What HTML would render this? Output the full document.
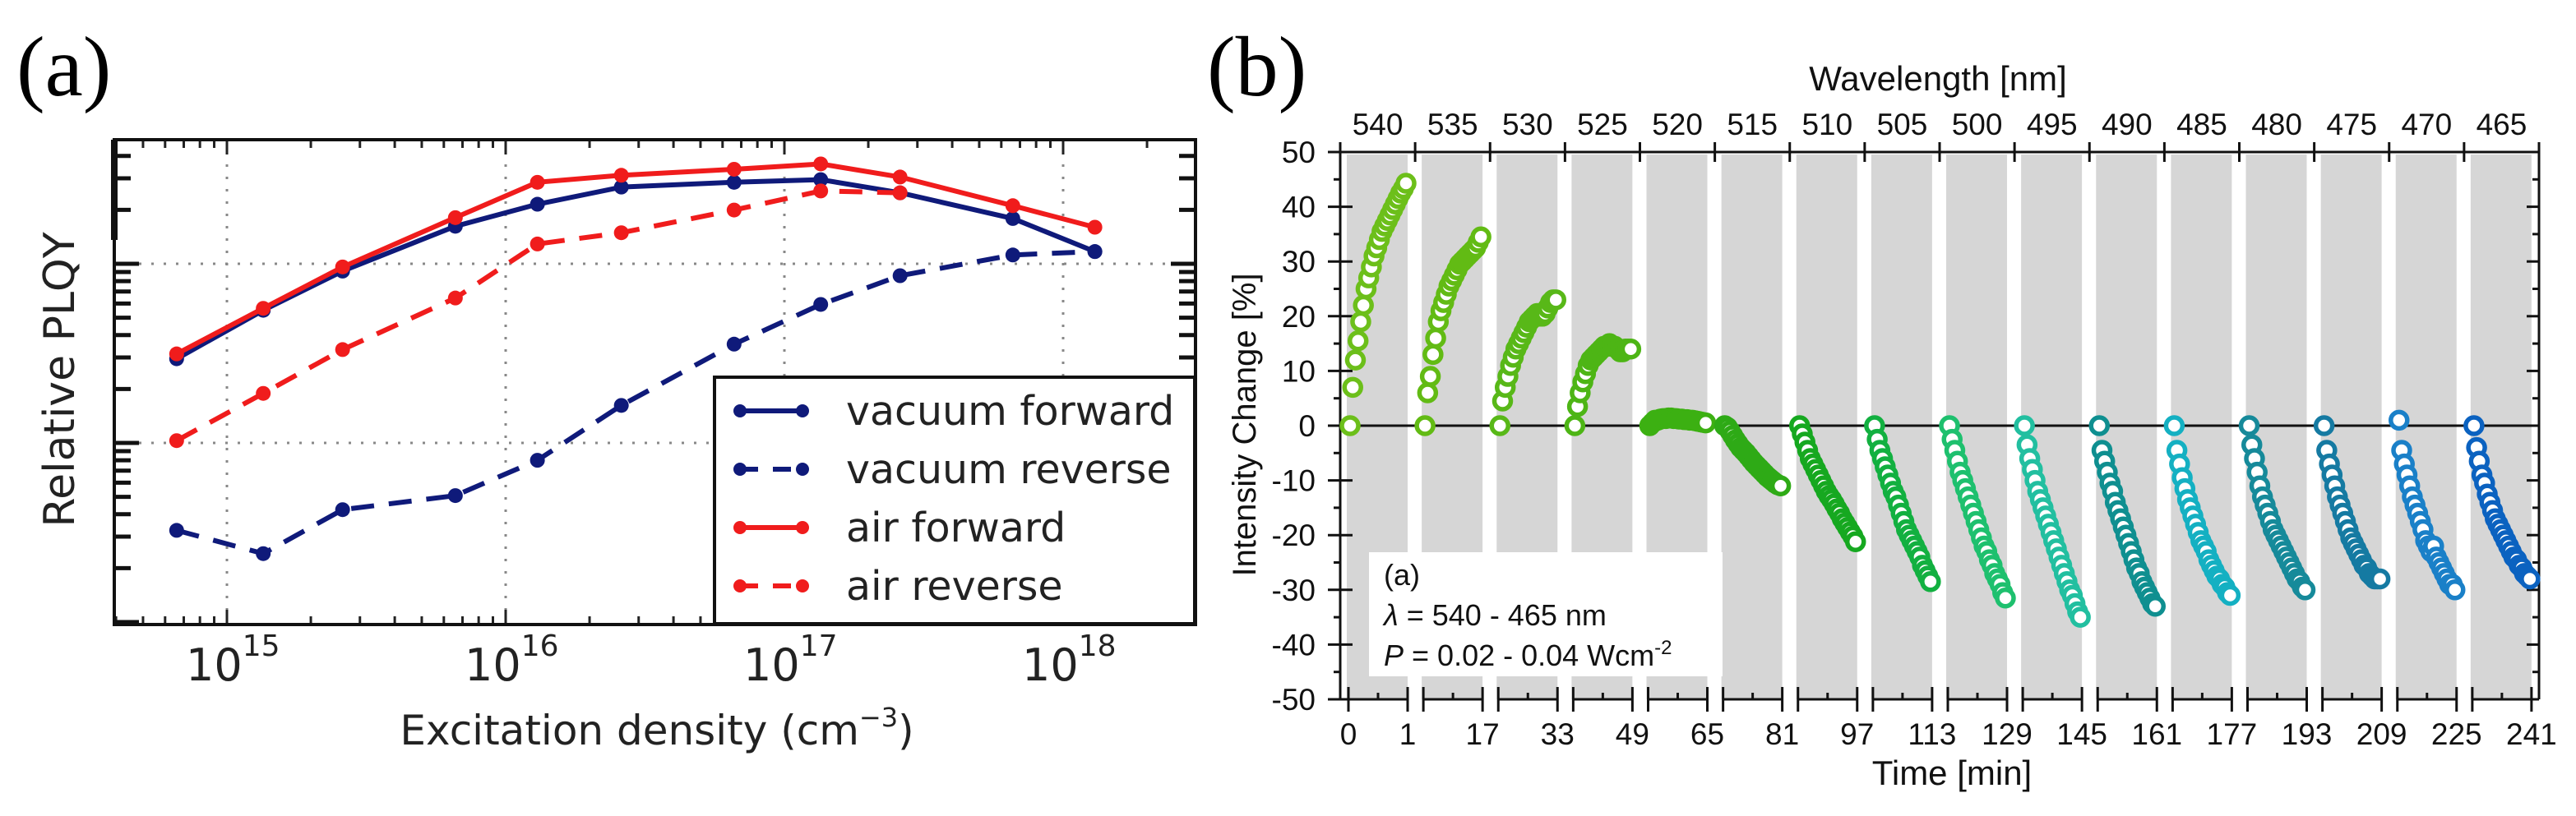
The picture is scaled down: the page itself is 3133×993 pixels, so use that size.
<!DOCTYPE html>
<html><head><meta charset="utf-8"><style>
html,body{margin:0;padding:0;background:#fff;}
svg{display:block;}
text{font-family:"Liberation Sans",sans-serif;}
.dv{font-family:"DejaVu Sans","Liberation Sans",sans-serif;}
.serif{font-family:"Liberation Serif",serif;}
</style></head><body>
<svg id="fig" width="3133" height="993" viewBox="0 0 3133 993" xmlns="http://www.w3.org/2000/svg">
  <text class="serif" x="20" y="116" font-size="104">(a)</text>
  <text class="serif" x="1468" y="116" font-size="104">(b)</text>
  <g id="pa"></g>
  <g id="pb"></g>
</svg>
<script>
// ---------- Panel (a) data ----------
const densities = [6.6e14, 1.35e15, 2.6e15, 6.6e15, 1.3e16, 2.6e16, 6.6e16, 1.35e17, 2.6e17, 6.6e17, 1.3e18];
const vacuumForward = [2.95, 5.5, 9.1, 16.2, 21.5, 26.8, 28.5, 29.5, 24.9, 17.9, 11.7];
const vacuumReverse = [0.325, 0.241, 0.424, 0.508, 0.80, 1.62, 3.56, 5.93, 8.58, 11.2, 11.7];
const airForward = [3.14, 5.64, 9.6, 18.1, 28.5, 31.2, 33.7, 36.1, 30.5, 21.1, 16.0];
const airReverse = [1.03, 1.89, 3.32, 6.44, 12.9, 14.9, 19.95, 25.5, 24.9];
const xTickExps = [15, 16, 17, 18];
const legendLabels = ["vacuum forward", "vacuum reverse", "air forward", "air reverse"];

// ---------- Panel (b) data ----------
const wavelengths = [540,535,530,525,520,515,510,505,500,495,490,485,480,475,470,465];
const timeLabels = ["1","17","33","49","65","81","97","113","129","145","161","177","193","209","225","241"];
const yTicksB = [50,40,30,20,10,0,-10,-20,-30,-40,-50];
const s540 = [0,7,12,15.5,19,22,25,27,29,31,32.5,34,35.5,36.5,37.5,38.5,39.5,40.5,41.5,42.5,43.3,44.3];
const s535 = [0,6,9,13,16,19,21,22.5,24,25.5,26.5,27.5,28.5,29.5,30,30.5,31,31.5,32,32.5,33.5,34.5];
const s530 = [0,4.5,7,9,11,12.5,14,15,16,17,18,19,19.5,20,20.5,20,20,20.5,21.5,22.5,23,23];
const s525 = [0,3.5,6,8,9.5,11,12,12.5,13,13.5,14,14.5,14.5,15,14.5,14.5,14,13.5,13.5,14,14,14];
const s520 = [0,0.5,1,1,1.2,1.3,1.3,1.4,1.4,1.3,1.3,1.2,1.2,1.1,1.1,1,1,0.9,0.8,0.7,0.6,0.5];
const s515 = [0,-0.3,-1,-1.8,-2.6,-3.3,-4,-4.5,-5,-5.6,-6.2,-6.8,-7.3,-7.8,-8.3,-8.8,-9.3,-9.7,-10.1,-10.5,-10.8,-11];
const s510 = [0,-1.5,-3,-4.5,-6,-7,-8,-9,-10,-11,-12,-12.8,-13.5,-14.3,-15.2,-16,-17,-17.8,-18.6,-19.4,-20.2,-21.2];
const s505 = [0,-2.5,-4.5,-6,-7.5,-9,-10.5,-12,-13,-14.5,-16,-17.5,-19,-20,-21,-22,-23,-24,-25.5,-26.5,-27.5,-28.5];
const s500 = [0,-2.5,-4.5,-6.5,-8.5,-10,-11.5,-13,-14.5,-16,-17.5,-19,-20.5,-22,-23,-24.5,-25.5,-27,-28,-29,-30.5,-31.5];
const s495 = [0,-3.5,-6,-8,-10,-12,-13.5,-15,-16.5,-18,-19.5,-21,-22.5,-24,-25.5,-27,-28.5,-30,-31,-32.5,-34,-35];
const s490 = [0,-4.5,-6.5,-8.5,-10.5,-12,-14,-15.5,-17,-18.5,-20,-21.5,-23,-24.5,-26,-27,-28.5,-29.5,-30.5,-31.5,-32.5,-33];
const s485 = [0,-4.5,-7,-9.5,-11.5,-13.5,-15,-16.5,-18,-19.5,-21,-22,-23,-24.5,-25.5,-26.5,-27.5,-28,-29,-29.5,-30.5,-31];
const s480 = [0,-3.5,-6,-8.5,-11,-13,-14.5,-16,-17.5,-19,-20,-21,-22,-23,-24,-25,-26,-27,-28,-28.5,-29.5,-30];
const s475 = [0,-4.5,-7,-9,-11,-13,-14.5,-16,-17.5,-19,-20.5,-21.5,-22.5,-23.5,-24.5,-25.5,-26,-27,-27.5,-28,-28,-28];
const s470 = [1,-4.5,-7,-9,-11,-13,-14.5,-16,-17.5,-19,-21,-22,-23,-22,-24,-25,-26,-27,-28,-29,-29,-30];
const s465 = [0,-4,-6.5,-9,-10.5,-12.5,-14,-15.5,-17,-18,-19,-20,-21,-22,-23,-24,-24.5,-25.5,-26,-27,-27.5,-28];
const seriesB = [s540,s535,s530,s525,s520,s515,s510,s505,s500,s495,s490,s485,s480,s475,s470,s465];
const colorsB = ["#6cbf1a","#62bb14","#58b818","#4db515","#3cb012","#2eaa16","#16a820","#12b040","#1ec06e","#22bfa0","#0f8f90","#14b0c2","#168a9a","#157aa2","#1a80c8","#0b62c0"];

const NS = "http://www.w3.org/2000/svg";
function mk(parent, tag, attrs, text){
  const e = document.createElementNS(NS, tag);
  for (const k in attrs) e.setAttribute(k, attrs[k]);
  if (text !== undefined) e.textContent = text;
  parent.appendChild(e);
  return e;
}

// ================= Panel (a) =================
(function(){
  const g = document.getElementById('pa');
  const L=139, R=1454, T=170, B=760;
  const x0=276, dec=339;
  const y1=539, ydec=218;
  const X = v => x0 + (Math.log10(v)-15)*dec;
  const Y = v => y1 - Math.log10(v)*ydec;

  xTickExps.forEach(e=>{
    const l = mk(g,'line',{x1:X(Math.pow(10,e)),x2:X(Math.pow(10,e)),y1:T,y2:B,stroke:'#888','stroke-width':3,'stroke-dasharray':'3 12'});
    
    
  });
  [1,10].forEach(v=>{
    const l = mk(g,'line',{x1:L,x2:R,y1:Y(v),y2:Y(v),stroke:'#888','stroke-width':3,'stroke-dasharray':'3 12'});
    
    
  });
  for (let e=14;e<=18;e++){
    for (let m=1;m<10;m++){
      const v=m*Math.pow(10,e); const x=X(v);
      if (x<L||x>R) continue;
      const len = m===1?18:10;
      const t1 = mk(g,'line',{x1:x,x2:x,y1:B,y2:B-len,stroke:'#222','stroke-width':3});
      
      
      mk(g,'line',{x1:x,x2:x,y1:T,y2:T+len,stroke:'#222','stroke-width':3});
    }
  }
  for (let e=-2;e<=1;e++){
    for (let m=1;m<10;m++){
      const v=m*Math.pow(10,e); const y=Y(v);
      if (y<T||y>B) continue;
      const len = m===1?30:20;
      const t1 = mk(g,'line',{x1:L,x2:L+len,y1:y,y2:y,stroke:'#111','stroke-width':5});
      
      
      mk(g,'line',{x1:R,x2:R-len,y1:y,y2:y,stroke:'#111','stroke-width':5});
    }
  }
  const fr = mk(g,'rect',{x:L,y:T,width:R-L,height:B-T,fill:'none',stroke:'#111','stroke-width':4});
  
  
  mk(g,'line',{x1:L,x2:L,y1:T,y2:292,stroke:'#111','stroke-width':8});

  xTickExps.forEach(e=>{
    const x=X(Math.pow(10,e));
    const t = mk(g,'text',{x:x-50,y:828,'font-size':54,'class':'dv',fill:'#222'});
    
    
    mk(t,'tspan',{},'10');
    mk(t,'tspan',{dy:-30,'font-size':36},String(e));
  });
  const xt = mk(g,'text',{x:799,y:906,'font-size':50,'text-anchor':'middle','class':'dv',fill:'#222'});
  
  
  mk(xt,'tspan',{},'Excitation density (cm');
  mk(xt,'tspan',{dy:-22,'font-size':32},'−3');
  mk(xt,'tspan',{dy:22},')');
  const yt = mk(g,'text',{x:0,y:0,'font-size':52,'text-anchor':'middle','class':'dv',fill:'#222',transform:'translate(90,462) rotate(-90)'},'Relative PLQY');
  
  

  const series = [
    {vals:vacuumForward,color:'#0f1a7a',dash:null,name:'vacuum-forward-line'},
    {vals:vacuumReverse,color:'#0f1a7a',dash:'28 18',name:'vacuum-reverse-line'},
    {vals:airForward,color:'#f01c1c',dash:null,name:'air-forward-line'},
    {vals:airReverse,color:'#f01c1c',dash:'28 18',name:'air-reverse-line'}
  ];
  series.forEach(s=>{
    const pts = s.vals.map((v,i)=>X(densities[i]).toFixed(1)+','+Y(v).toFixed(1)).join(' ');
    const attrs={points:pts,fill:'none',stroke:s.color,'stroke-width':6};
    if (s.dash) attrs['stroke-dasharray']=s.dash;
    const pl = mk(g,'polyline',attrs);
    
    
    s.vals.forEach((v,i)=>{
      const c = mk(g,'circle',{cx:X(densities[i]),cy:Y(v),r:9,fill:s.color});
      
      
    });
  });

  const lg = mk(g,'g',{});
  
  
  mk(lg,'rect',{x:869,y:459,width:584,height:300,fill:'#fff',stroke:'#111','stroke-width':4});
  const ly=[500,571,642,713];
  series.forEach((s,i)=>{
    const e = mk(lg,'g',{});
    
    
    const a={x1:900,x2:976,y1:ly[i],y2:ly[i],stroke:s.color,'stroke-width':6};
    if (s.dash) a['stroke-dasharray']='22 18';
    mk(e,'line',a);
    mk(e,'circle',{cx:900,cy:ly[i],r:8,fill:s.color});
    mk(e,'circle',{cx:976,cy:ly[i],r:8,fill:s.color});
    mk(e,'text',{x:1029,y:ly[i]+17,'font-size':49,'class':'dv',fill:'#222'},legendLabels[i]);
  });
})();

// ================= Panel (b) =================
(function(){
  const g = document.getElementById('pb');
  const L=1630, R=3088, T=185, B=851;
  const PW=(R-L)/16;
  const Y = v => 518 - v*6.66;
  const panelStart = k => L + k*PW;
  const X = (k,f) => panelStart(k) + 12 + f*68;

  wavelengths.forEach((w,k)=>{
    const r = mk(g,'rect',{x:panelStart(k)+8,y:188,width:74,height:B-188,fill:'#d6d6d6'});
    
    
  });
  const ib = mk(g,'g',{});
  
  
  mk(ib,'rect',{x:1665,y:672,width:430,height:151,fill:'#fff'});
  mk(ib,'text',{x:1683,y:712,'font-size':36,fill:'#111'},'(a)');
  const t2 = mk(ib,'text',{x:1683,y:761,'font-size':36,fill:'#111'});
  mk(t2,'tspan',{'font-style':'italic'},'λ');
  mk(t2,'tspan',{},' = 540 - 465 nm');
  const t3 = mk(ib,'text',{x:1683,y:810,'font-size':36,fill:'#111'});
  mk(t3,'tspan',{'font-style':'italic'},'P');
  mk(t3,'tspan',{},' = 0.02 - 0.04 Wcm');
  mk(t3,'tspan',{dy:-14,'font-size':24},'-2');

  const z = mk(g,'line',{x1:L,x2:R,y1:Y(0),y2:Y(0),stroke:'#111','stroke-width':3});
  
  

  mk(g,'line',{x1:L,x2:R,y1:T,y2:T,stroke:'#111','stroke-width':3});
  mk(g,'line',{x1:L,x2:L,y1:T,y2:B,stroke:'#111','stroke-width':3});
  mk(g,'line',{x1:R,x2:R,y1:T,y2:B,stroke:'#111','stroke-width':3});
  yTicksB.forEach(v=>{
    const y=Y(v);
    const t = mk(g,'line',{x1:L-15,x2:L+15,y1:y,y2:y,stroke:'#111','stroke-width':3});
    
    
    mk(g,'line',{x1:R-15,x2:R,y1:y,y2:y,stroke:'#111','stroke-width':3});
    const lb = mk(g,'text',{x:1600,y:y+13,'font-size':37,'text-anchor':'end',fill:'#111'},String(v));
    
    
    if (v>-50){
      const ym=Y(v-5);
      mk(g,'line',{x1:L-8,x2:L,y1:ym,y2:ym,stroke:'#111','stroke-width':3});
      mk(g,'line',{x1:R-8,x2:R,y1:ym,y2:ym,stroke:'#111','stroke-width':3});
    }
  });
  for (let k=0;k<=16;k++){
    const x=panelStart(k);
    mk(g,'line',{x1:x,x2:x,y1:T-12,y2:T+12,stroke:'#111','stroke-width':3});
  }
  wavelengths.forEach((w,k)=>{
    const lb = mk(g,'text',{x:panelStart(k)+PW/2,y:164,'font-size':37,'text-anchor':'middle',fill:'#111'},String(w));
    
    
  });
  const wt = mk(g,'text',{x:2357,y:110,'font-size':42,'text-anchor':'middle',fill:'#111'},'Wavelength [nm]');
  
  
  wavelengths.forEach((w,k)=>{
    const a=X(k,0)-2, b=X(k,1)+2;
    mk(g,'line',{x1:a,x2:b,y1:B,y2:B,stroke:'#111','stroke-width':3});
    mk(g,'line',{x1:a,x2:a,y1:B-15,y2:B+15,stroke:'#111','stroke-width':3});
    mk(g,'line',{x1:b,x2:b,y1:B-15,y2:B+15,stroke:'#111','stroke-width':3});
    mk(g,'line',{x1:(a+b)/2,x2:(a+b)/2,y1:B-8,y2:B,stroke:'#111','stroke-width':3});
    const lb = mk(g,'text',{x:b,y:906,'font-size':37,'text-anchor':'middle',fill:'#111'},timeLabels[k]);
    
    
  });
  const l0 = mk(g,'text',{x:X(0,0)-2,y:906,'font-size':37,'text-anchor':'middle',fill:'#111'},'0');
  
  
  const xt = mk(g,'text',{x:2374,y:955,'font-size':42,'text-anchor':'middle',fill:'#111'},'Time [min]');
  
  
  const yt = mk(g,'text',{x:0,y:0,'font-size':40,'text-anchor':'middle',fill:'#111',transform:'translate(1527,517) rotate(-90)'},'Intensity Change [%]');
  
  

  seriesB.forEach((vals,k)=>{
    const sg = mk(g,'g',{});
    
    
    const n=vals.length;
    vals.forEach((v,i)=>{
      const c = mk(sg,'circle',{cx:X(k,i/(n-1)),cy:Y(v),r:10,fill:'#fff',stroke:colorsB[k],'stroke-width':5.5});
      
      
    });
  });
})();
</script>
</body></html>
